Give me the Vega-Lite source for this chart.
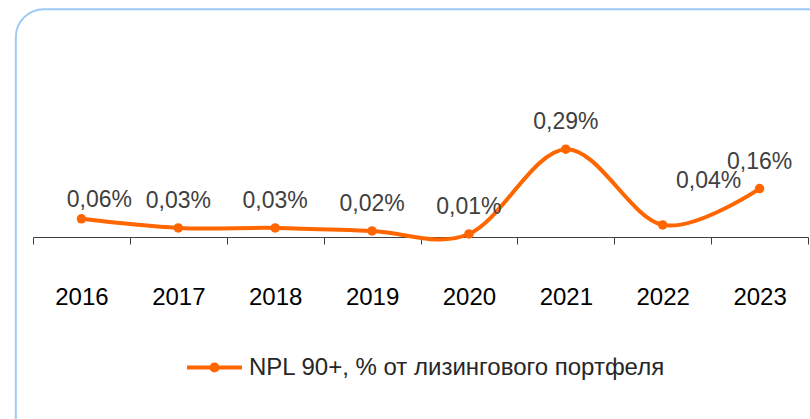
{
  "$schema": "https://vega.github.io/schema/vega-lite/v6.json",
  "width": 775,
  "height": 106,
  "autosize": "none",
  "padding": {"left": 33, "top": 131, "right": 2, "bottom": 182},
  "background": "white",
  "config": {
    "view": {"stroke": null},
    "font": "Liberation Sans",
    "locale": {"number": {"decimal": ",", "thousands": " ", "grouping": [3], "currency": ["", ""]}}
  },
  "data": {"values": [
    {"year": 2016, "value": 0.0006},
    {"year": 2017, "value": 0.0003},
    {"year": 2018, "value": 0.0003},
    {"year": 2019, "value": 0.0002},
    {"year": 2020, "value": 0.0001},
    {"year": 2021, "value": 0.0029},
    {"year": 2022, "value": 0.0004},
    {"year": 2023, "value": 0.0016}
  ]},
  "encoding": {
    "x": {
      "field": "year", "type": "quantitative",
      "scale": {"domain": [2015.5, 2023.5], "nice": false, "zero": false},
      "axis": {
        "values": [2015.5, 2016, 2016.5, 2017, 2017.5, 2018, 2018.5, 2019, 2019.5, 2020, 2020.5, 2021, 2021.5, 2022, 2022.5, 2023, 2023.5],
        "labelExpr": "datum.value % 1 === 0 ? format(datum.value, 'd') : ''",
        "tickColor": {"condition": {"test": "datum.value % 1 === 0", "value": "transparent"}, "value": "#404040"},
        "tickSize": 7,
        "tickWidth": 1,
        "domainColor": "#404040",
        "domainWidth": 1,
        "labelFont": "Liberation Sans",
        "labelFontSize": 24,
        "labelColor": "#000000",
        "labelPadding": 41,
        "labelOverlap": false,
        "labelFlush": false,
        "labelBound": false,
        "grid": false,
        "title": null
      }
    },
    "y": {
      "field": "value", "type": "quantitative",
      "scale": {"domain": [0, 0.0035], "nice": false, "zero": true},
      "axis": null
    }
  },
  "layer": [
    {
      "transform": [{"filter": "datum.year == 2016"}],
      "mark": {"type": "rect", "fill": "transparent", "stroke": "#9ccaf7", "strokeWidth": 2, "cornerRadius": 28},
      "encoding": {
        "x": {"datum": 2015.3225, "type": "quantitative"},
        "x2": {"datum": 2024.2},
        "y": {"datum": 0.007522, "type": "quantitative"},
        "y2": {"datum": -0.008}
      }
    },
    {
      "mark": {"type": "line", "color": "#FF6600", "strokeWidth": 4, "interpolate": "cardinal", "tension": 0}
    },
    {
      "mark": {"type": "point", "filled": true, "size": 90, "opacity": 1},
      "encoding": {
        "color": {
          "datum": "NPL 90+, % от лизингового портфеля",
          "scale": {"range": ["#FF6600"]},
          "legend": {
            "orient": "none",
            "legendX": 152,
            "legendY": 207,
            "title": null,
            "padding": 0,
            "symbolType": "M-1,0H1M0.11,0A0.11,0.11,0,1,1,-0.11,0A0.11,0.11,0,1,1,0.11,0Z",
            "symbolSize": 3025,
            "symbolStrokeWidth": 4,
            "symbolStrokeColor": "#FF6600",
            "symbolFillColor": "#FF6600",
            "labelFont": "Liberation Sans",
            "labelFontSize": 24,
            "labelColor": "#262626",
            "labelOffset": 5,
            "labelLimit": 600
          }
        }
      }
    },
    {
      "transform": [{"filter": "datum.year != 2016 && datum.year != 2022"}],
      "mark": {"type": "text", "dy": -20, "baseline": "alphabetic", "align": "center", "fontSize": 23, "color": "#404040", "font": "Liberation Sans"},
      "encoding": {"text": {"field": "value", "type": "quantitative", "format": ".2%"}}
    },
    {
      "transform": [{"filter": "datum.year == 2016"}],
      "mark": {"type": "text", "dx": 18, "dy": -12, "baseline": "alphabetic", "align": "center", "fontSize": 23, "color": "#404040", "font": "Liberation Sans"},
      "encoding": {"text": {"field": "value", "type": "quantitative", "format": ".2%"}}
    },
    {
      "transform": [{"filter": "datum.year == 2022"}],
      "mark": {"type": "text", "dx": 46, "dy": -37, "baseline": "alphabetic", "align": "center", "fontSize": 23, "color": "#404040", "font": "Liberation Sans"},
      "encoding": {"text": {"field": "value", "type": "quantitative", "format": ".2%"}}
    }
  ]
}
